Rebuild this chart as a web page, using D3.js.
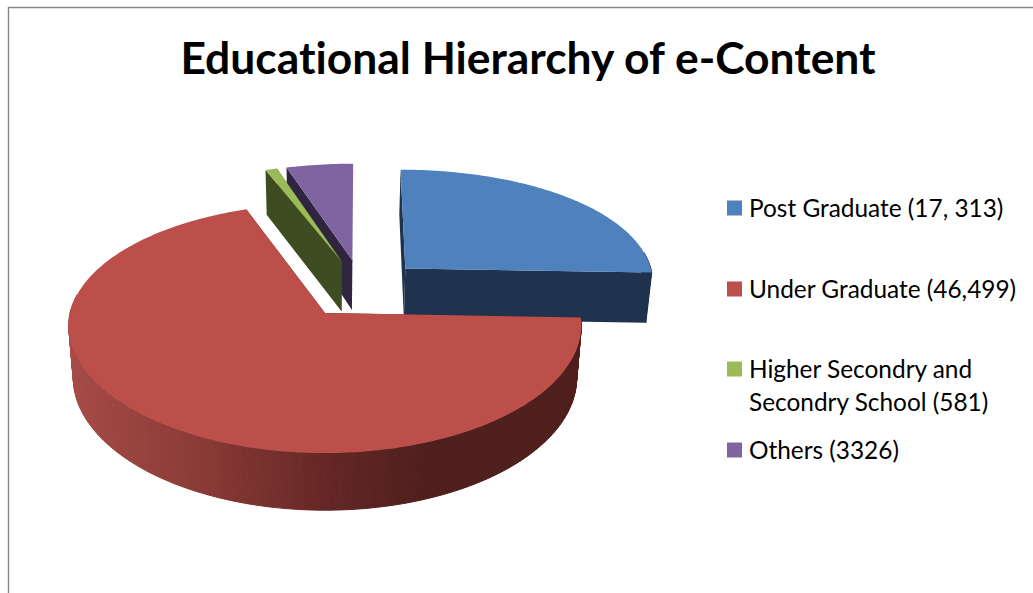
<!DOCTYPE html>
<html>
<head>
<meta charset="utf-8">
<script src="https://cdn.jsdelivr.net/npm/d3@7"></script>
<style>
  html, body { margin: 0; padding: 0; background: #fff; }
  svg { display: block; }
  text { font-family: Lato, "Open Sans", sans-serif; fill: #000; font-variant-ligatures: none; }
</style>
</head>
<body>
<svg id="chart" width="1033" height="593"></svg>
<script>
// Content counts per educational level
const titleText = "Educational Hierarchy of e-Content";
const categories = ["Post Graduate", "Under Graduate", "Higher Secondary", "Others"];
const counts = [17313, 46499, 581, 3326];
const legendLines = [
  ["Post Graduate (17, 313)"],
  ["Under Graduate (46,499)"],
  ["Higher Secondry and", "Secondry School (581)"],
  ["Others (3326)"]
];
const topColors = ["#4f81bd", "#bd4f4b", "#9bbb59", "#8064a2"];
const wallColors = ["#1f334e", "#4e1f1d", "#3e4c22", "#302540"];
const paintOrder = [3, 2, 0, 1];

const W = 1033, H = 593;
const svg = d3.select("#chart");

// Frame: top and left edges only, the other two run off the page
svg.append("path")
  .attr("d", d3.line()([[8.5, H], [8.5, 7.5], [W, 7.5]]))
  .attr("fill", "none").attr("stroke", "#868686").attr("stroke-width", 1.4);

svg.append("text")
  .attr("x", 528).attr("y", 74)
  .attr("text-anchor", "middle")
  .attr("font-size", 44.4).attr("font-weight", 700)
  .text(titleText);

// Perspective view of the exploded pie
const R = 255;            // disc radius
const D = 52;             // disc thickness
const explode = 63;       // distance each slice is pulled out
const squash = 125;       // vertical size of a unit of depth
const perspX = 0.1;       // horizontal growth towards the viewer
const perspY = 0.12;      // vertical growth towards the viewer
const shear = 3.5;        // sideways drift of the far half of the ground
const taper = 0.018;      // narrowing of vertical edges going down
const anchor = [325, 313];

const slices = d3.pie().sort(null).value(d => d)(counts);
const mid = s => (s.startAngle + s.endAngle) / 2;

// Ground coordinates: X to the right, Y towards the viewer
function project(X, Y, Z) {
  const v = Y / R, wx = 1 + perspX * v, wy = 1 + perspY * v;
  return [
    anchor[0] + X * wx * (1 - taper * Z / D) + shear * Math.max(0, -v),
    anchor[1] + squash * v * wy + Z * wx
  ];
}

// The largest slice's apex sits on the anchor point
const mainSlice = slices[d3.maxIndex(counts)];
const cx0 = -explode * Math.sin(mid(mainSlice));
const cy0 = explode * Math.cos(mid(mainSlice));

const line = d3.line();
const wallShade = d3.scaleLinear()
  .domain([-1, -0.45, 0, 0.38, 1])
  .range(["#a84c46", "#8a3b37", "#652725", "#4e1f1d", "#4e1f1d"]);

const layer = svg.append("g");

paintOrder.forEach(i => {
  const s = slices[i];
  const ox = cx0 + explode * Math.sin(mid(s));
  const oy = cy0 - explode * Math.cos(mid(s));
  const rim = a => [ox + R * Math.sin(a), oy - R * Math.cos(a)];
  const g = layer.append("g").attr("class", "slice");

  // Radial cut faces
  [s.startAngle, s.endAngle].forEach(a => {
    const [x, y] = rim(a);
    g.append("path")
      .attr("d", line([project(ox, oy, 0), project(x, y, 0), project(x, y, D), project(ox, oy, D)]) + "Z")
      .attr("fill", wallColors[i]);
  });

  // Outer curved wall in narrow bands, only where it faces the viewer
  const nSteps = Math.max(2, Math.ceil((s.endAngle - s.startAngle) / 0.02));
  const angles = d3.range(nSteps + 1).map(k => s.startAngle + (s.endAngle - s.startAngle) * k / nSteps);
  d3.pairs(angles).forEach(([a, b]) => {
    if (Math.cos((a + b) / 2) > 0.15) return;
    const [x0, y0] = rim(a), [x1, y1] = rim(b);
    const shade = i === 1 ? wallShade(Math.sin((a + b) / 2)) : wallColors[i];
    g.append("path")
      .attr("d", line([project(x0, y0, 0), project(x1, y1, 0), project(x1, y1, D), project(x0, y0, D)]) + "Z")
      .attr("fill", shade).attr("stroke", shade).attr("stroke-width", 1);
  });

  // Top surface
  const topPts = [project(ox, oy, 0)].concat(angles.map(a => { const [x, y] = rim(a); return project(x, y, 0); }));
  g.append("path").attr("d", line(topPts) + "Z").attr("fill", topColors[i]);
});

// Legend
const keyY = [200.5, 281.5, 361.5, 442.5];
const legend = svg.append("g");
categories.forEach((c, i) => {
  legend.append("rect")
    .attr("x", 727).attr("y", keyY[i]).attr("width", 15).attr("height", 15)
    .attr("fill", topColors[i]);
  legendLines[i].forEach((t, j) => {
    legend.append("text")
      .attr("x", 749).attr("y", keyY[i] + 16.5 + j * 33)
      .attr("font-size", 24.4)
      .text(t);
  });
});
</script>
</body>
</html>
